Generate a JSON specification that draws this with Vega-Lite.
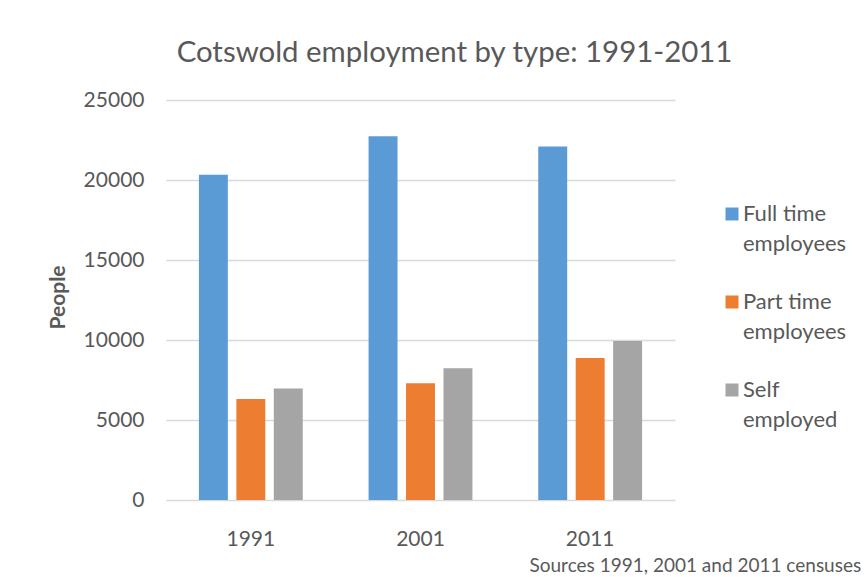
{
  "$schema": "https://vega.github.io/schema/vega-lite/v6.json",
  "width": 509,
  "height": 400,
  "autosize": {"type": "none"},
  "padding": {"left": 166, "top": 100, "right": 190, "bottom": 77},
  "background": "white",
  "title": {
    "text": "Cotswold employment by type: 1991-2011",
    "font": "Lato",
    "fontSize": 29.4,
    "fontWeight": "normal",
    "color": "#595959",
    "anchor": "middle",
    "frame": "group",
    "baseline": "alphabetic",
    "dx": 34,
    "offset": -2
  },
  "data": {
    "values": [
      {"year": "1991", "type": "Full time employees", "people": 20330},
      {"year": "1991", "type": "Part time employees", "people": 6320},
      {"year": "1991", "type": "Self employed", "people": 6970},
      {"year": "2001", "type": "Full time employees", "people": 22740},
      {"year": "2001", "type": "Part time employees", "people": 7300},
      {"year": "2001", "type": "Self employed", "people": 8240},
      {"year": "2011", "type": "Full time employees", "people": 22100},
      {"year": "2011", "type": "Part time employees", "people": 8880},
      {"year": "2011", "type": "Self employed", "people": 9940}
    ]
  },
  "mark": {"type": "bar"},
  "encoding": {
    "x": {
      "field": "year",
      "type": "nominal",
      "scale": {"paddingInner": 0.388, "paddingOuter": 0.194},
      "axis": {
        "title": "Sources 1991, 2001 and 2011 censuses",
        "titleFont": "Lato",
        "titleFontSize": 19,
        "titleFontWeight": "normal",
        "titleColor": "#595959",
        "titleAlign": "left",
        "titleAnchor": "start",
        "titleBaseline": "alphabetic",
        "titleX": 363,
        "titleY": 71,
        "labelAngle": 0,
        "labelFont": "Lato",
        "labelFontSize": 21,
        "labelColor": "#595959",
        "labelPadding": 28,
        "labelBaseline": "top",
        "ticks": false,
        "tickSize": 0,
        "domain": false,
        "grid": false
      }
    },
    "xOffset": {
      "field": "type",
      "type": "nominal",
      "sort": ["Full time employees", "Part time employees", "Self employed"],
      "scale": {"paddingInner": 0.227, "paddingOuter": 0}
    },
    "y": {
      "field": "people",
      "type": "quantitative",
      "scale": {"domain": [0, 25000], "nice": false},
      "axis": {
        "values": [0, 5000, 10000, 15000, 20000, 25000],
        "format": "d",
        "title": "People",
        "titleFont": "Lato",
        "titleFontSize": 21,
        "titleFontWeight": "bold",
        "titleColor": "#595959",
        "titleAngle": -90,
        "titleAlign": "center",
        "titleBaseline": "alphabetic",
        "titleX": -102,
        "titleY": 197,
        "labelFont": "Lato",
        "labelFontSize": 21,
        "labelColor": "#595959",
        "labelPadding": 22,
        "ticks": false,
        "tickSize": 0,
        "domain": false,
        "grid": true,
        "gridColor": "#D9D9D9",
        "gridWidth": 1.5
      }
    },
    "color": {
      "field": "type",
      "type": "nominal",
      "sort": ["Full time employees", "Part time employees", "Self employed"],
      "scale": {
        "domain": ["Full time employees", "Part time employees", "Self employed"],
        "range": ["#5B9BD5", "#ED7D31", "#A5A5A5"]
      },
      "legend": {
        "title": null,
        "orient": "none",
        "legendX": 555,
        "legendY": 103,
        "padding": 0,
        "symbolType": "square",
        "symbolSize": 169,
        "symbolStrokeWidth": 0,
        "labelFont": "Lato",
        "labelFontSize": 22,
        "labelColor": "#595959",
        "labelOffset": 0,
        "labelBaseline": "alphabetic",
        "labelLimit": 300,
        "rowPadding": 36,
        "labelExpr": "datum.label == 'Full time employees' ? ['Full time', 'employees'] : datum.label == 'Part time employees' ? ['Part time', 'employees'] : ['Self', 'employed']",
        "encode": {
          "labels": {"update": {"lineHeight": {"value": 30}, "dy": {"value": 7}}}
        }
      }
    }
  },
  "config": {
    "view": {"stroke": null},
    "font": "Lato"
  }
}
